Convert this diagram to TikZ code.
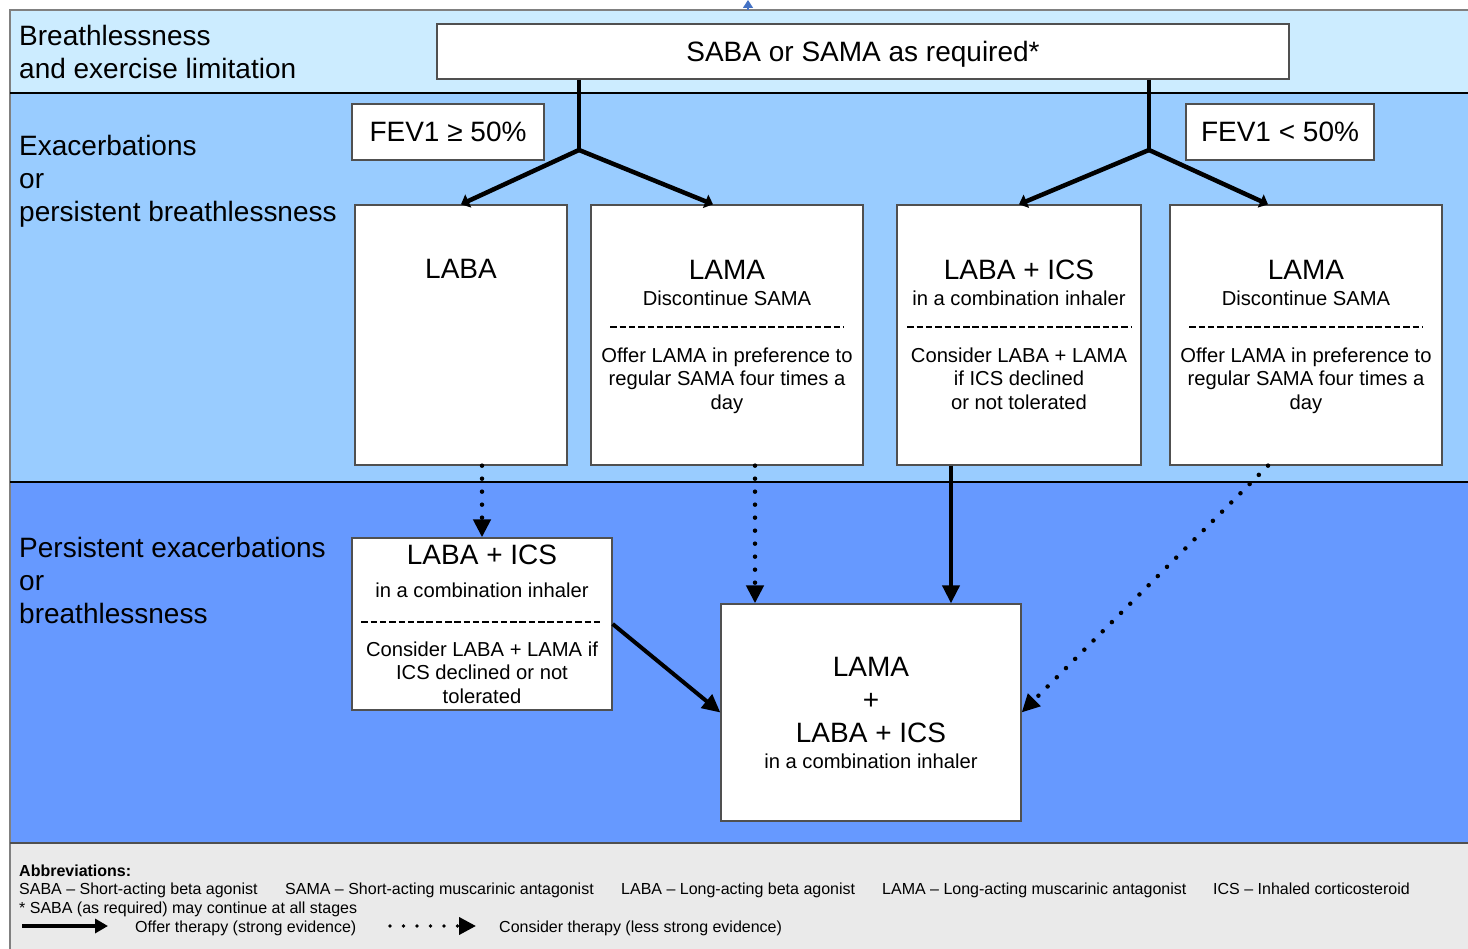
\documentclass[tikz,border=0pt]{standalone}
\usepackage{fontspec}
\setmainfont{Liberation Sans}
\usetikzlibrary{arrows.meta,positioning}
\definecolor{bandA}{RGB}{204,236,255}
\definecolor{bandB}{RGB}{153,204,255}
\definecolor{bandC}{RGB}{102,153,255}
\definecolor{foot}{RGB}{234,234,234}
\definecolor{edge}{RGB}{80,80,80}
\definecolor{stub}{RGB}{68,114,196}
\newcommand\bigfont{\fontsize{28}{33}\selectfont}
\newcommand\midfont{\fontsize{20.2}{23.5}\selectfont}
\newcommand\smallfont{\fontsize{16}{18.5}\selectfont}
\tikzset{
	box/.style={draw=edge, line width=1.3pt, fill=white, inner sep=0pt},
	head/.style={anchor=base, font=\bigfont, inner sep=0pt},
	sub/.style={anchor=base, font=\midfont, inner sep=0pt},
	body/.style={align=center, font=\midfont, inner sep=0pt},
	side/.style={anchor=west, align=left, font=\bigfont, inner sep=0pt},
	foottext/.style={anchor=base west, font=\smallfont, inner sep=0pt},
	strong/.style={line width=4pt, -{Triangle[length=18pt,width=17pt]}},
	weak/.style={line width=4.5pt, line cap=round, dash pattern=on 0pt off 13pt, -{Triangle[length=18pt,width=17pt]}},
	branch/.style={line width=4.5pt, -{Triangle[length=8pt,width=14pt]}},
	dashline/.style={line width=2.2pt, dash pattern=on 6.5pt off 2.8pt},
}
\begin{document}
\begin{tikzpicture}[x=1pt,y=-1pt]
	\useasboundingbox (0,0) rectangle (1468,949);
	\fill[bandA] (10,10) rectangle (1468,93);
	\fill[bandB] (10,93) rectangle (1468,482);
	\fill[bandC] (10,482) rectangle (1468,843);
	\fill[foot] (10,843) rectangle (1468,949);
	\draw[gray, line width=1.3pt] (10,949) -- (10,10) -- (1468,10);
	\draw[line width=1.2pt] (10,93) -- (1468,93);
	\draw[line width=1.2pt] (10,482) -- (1468,482);
	\draw[edge, line width=1.3pt] (10,843) -- (1468,843);
	\coordinate (top) at (748,10);
	\draw[stub, line width=1.2pt, -{Triangle[length=8pt,width=10pt]}] (top) -- ++(0,-10);
	
	\node[side] (s1) at (19,51.5) {Breathlessness\\and exercise limitation};
	\node[side] (s2) at (19,181) {Exacerbations\\or\\persistent breathlessness};
	\node[side] (s3) at (19,580) {Persistent exacerbations\\or\\breathlessness};
	
	\node[box, minimum width=852pt, minimum height=55pt, font=\bigfont, text depth=0pt] (saba) at (863,51.5) {SABA or SAMA as required*};
	\node[box, minimum width=192pt, minimum height=56pt, font=\bigfont] (fa) at (448,132) {FEV1 ≥ 50\%};
	\node[box, minimum width=188pt, minimum height=56pt, font=\bigfont] (fb) at (1280,132) {FEV1 < 50\%};
	
	\node[box, minimum width=212pt, minimum height=260pt] (laba) at (461,335) {};
	\node[box, minimum width=272pt, minimum height=260pt] (lama) at (727,335) {};
	\node[box, minimum width=244pt, minimum height=260pt] (li) at (1019,335) {};
	\node[box, minimum width=272pt, minimum height=260pt] (lm) at (1306,335) {};
	\node[box, minimum width=260pt, minimum height=172pt] (li2) at (482,624) {};
	\node[box, minimum width=300pt, minimum height=217pt] (fin) at (871,712.5) {};
	
	\node[head] (laba-t) at (461,279) {LABA};
	
	\node[head] (lama-t) at (727,280) {LAMA};
	\node[sub] (lama-s) at (727,306) {Discontinue SAMA};
	\draw[dashline] ([xshift=20pt]lama.west |- 0,327) -- ([xshift=-20pt]lama.east |- 0,327);
	\node[body] (lama-b) at (727,380.5) {Offer LAMA in preference to\\regular SAMA four times a\\day};
	
	\node[head] (li-t) at (1019,280) {LABA + ICS};
	\node[sub] (li-s) at (1019,306) {in a combination inhaler};
	\draw[dashline] ([xshift=11pt]li.west |- 0,327) -- ([xshift=-11pt]li.east |- 0,327);
	\node[body] (li-b) at (1019,378.4) {Consider LABA + LAMA\\if ICS declined\\or not tolerated};
	
	\node[head] (lm-t) at (1306,280) {LAMA};
	\node[sub] (lm-s) at (1306,306) {Discontinue SAMA};
	\draw[dashline] ([xshift=20pt]lm.west |- 0,327) -- ([xshift=-20pt]lm.east |- 0,327);
	\node[body] (lm-b) at (1306,380.5) {Offer LAMA in preference to\\regular SAMA four times a\\day};
	
	\node[head] (li2-t) at (482,564) {LABA + ICS};
	\node[sub] (li2-s) at (482,597) {in a combination inhaler};
	\draw[dashline] ([xshift=10pt]li2.west |- 0,622) -- ([xshift=-10pt]li2.east |- 0,622);
	\node[body] (li2-b) at (482,672.4) {Consider LABA + LAMA if\\ICS declined or not\\tolerated};
	
	\node[body, font=\bigfont] (fin-t) at (871,700.5) {LAMA\\+\\LABA + ICS};
	\node[sub] (fin-s) at (871,768) {in a combination inhaler};
	
	\coordinate (ka) at (579,150);
	\coordinate (kb) at (1149,150);
	\draw[line width=4.5pt] (saba.south -| ka) -- (ka);
	\draw[line width=4.5pt] (saba.south -| kb) -- (kb);
	\draw[branch] (ka) -- (laba.north);
	\draw[branch] (ka) -- ([xshift=-14pt]lama.north);
	\draw[branch] (kb) -- (li.north);
	\draw[branch] (kb) -- ([xshift=-38pt]lm.north);
	
	\draw[weak] (laba.south -| li2.north) -- (li2.north);
	\draw[weak] ([xshift=28pt]lama.south) -- ([xshift=28pt]lama.south |- fin.north);
	\draw[strong] ([xshift=-68pt]li.south) -- ([xshift=-68pt]li.south |- fin.north);
	\draw[weak] ([xshift=-38pt]lm.south) -- (fin.east);
	\draw[strong] (li2.east) -- (fin.west);
	
	\node[foottext, font=\smallfont\bfseries] (abbr) at (19,876) {Abbreviations:};
	\node[foottext] (ab1) at (19,894) {SABA – Short-acting beta agonist};
	\node[foottext] (ab2) at (285,894) {SAMA – Short-acting muscarinic antagonist};
	\node[foottext] (ab3) at (621,894) {LABA – Long-acting beta agonist};
	\node[foottext] (ab4) at (882,894) {LAMA – Long-acting muscarinic antagonist};
	\node[foottext] (ab5) at (1213,894) {ICS – Inhaled corticosteroid};
	\node[foottext] (note) at (19,913) {* SABA (as required) may continue at all stages};
	\coordinate (la) at (22,926);
	\coordinate (lb) at (108,926);
	\draw[line width=4pt, -{Triangle[length=13pt,width=14pt]}] (la) -- (lb);
	\node[foottext] (offer) at (135,932) {Offer therapy (strong evidence)};
	\coordinate (lc) at (390,926);
	\coordinate (ld) at (476,926);
	\draw[line width=3.8pt, line cap=round, dash pattern=on 0pt off 13.5pt, -{Triangle[length=17pt,width=17pt]}] (lc) -- (ld);
	\node[foottext] (cons) at (499,932) {Consider therapy (less strong evidence)};
\end{tikzpicture}
\end{document}
